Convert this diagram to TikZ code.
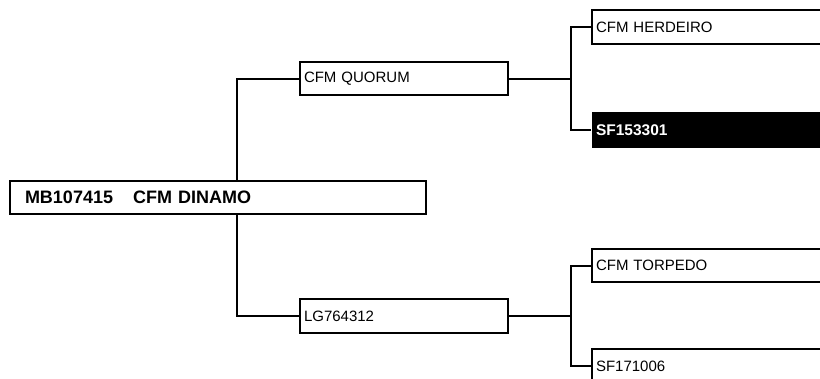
\documentclass[tikz,border=0pt]{standalone}
\usepackage{fontspec}
\setmainfont{Liberation Sans}
\begin{document}
\begin{tikzpicture}[x=1pt,y=-1pt,
  pbox/.style={draw, line width=2pt, rectangle, anchor=north west, inner xsep=4pt, inner ysep=0pt,
    align=left, font=\fontsize{15}{18}\selectfont},
  conn/.style={line width=2pt}]
\useasboundingbox (0,0) rectangle (820,378);
\node[pbox, inner xsep=15pt, text width=386pt, minimum height=33pt, font=\fontsize{18}{21}\selectfont\bfseries] (main) at (9,180) {MB107415\hspace{20pt}CFM DINAMO};
\node[pbox, text width=200pt, minimum height=33pt] (quorum) at (299,61) {CFM QUORUM};
\node[pbox, text width=200pt, minimum height=34pt] (lg) at (299,298) {LG764312};
\node[pbox, text width=240pt, minimum height=34pt] (herdeiro) at (591,9) {CFM HERDEIRO};
\node[pbox, draw=none, fill=black, text=white, text width=240pt, minimum height=36pt, font=\fontsize{15.5}{18}\selectfont\bfseries] (sf1) at (591,111) {SF153301};
\node[pbox, text width=240pt, minimum height=33pt] (torpedo) at (591,248) {CFM TORPEDO};
\node[pbox, text width=240pt, minimum height=34pt] (sf2) at (591,348) {SF171006};
\coordinate (jx) at (237,0);
\coordinate (qx) at (571,0);
\draw[conn] (jx |- main.north) |- (quorum.west);
\draw[conn] (jx |- main.south) |- (lg.west);
\draw[conn] (quorum.east) -- (qx |- quorum.east);
\draw[conn] (herdeiro.west) -| (qx |- quorum.east) |- (sf1.west);
\draw[conn] (lg.east) -- (qx |- lg.east);
\draw[conn] (torpedo.west) -| (qx |- lg.east) |- (sf2.west);
\end{tikzpicture}
\end{document}
